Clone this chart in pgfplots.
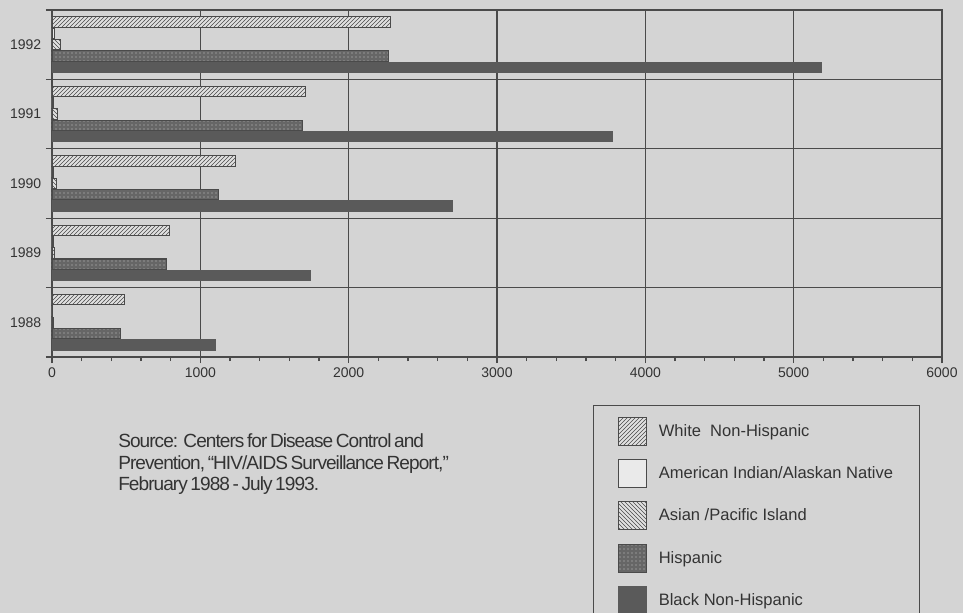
\documentclass[border=0pt]{standalone}
\usepackage{fontspec}
\setmainfont{Liberation Sans}
\newfontfamily\srcfont[LetterSpace=-5, WordSpace=0.6]{Liberation Sans}
\usepackage{pgfplots}
\pgfplotsset{compat=1.18}
\usetikzlibrary{patterns}
\definecolor{bg}{HTML}{D4D4D4}
\definecolor{ln}{HTML}{4A4A4A}
\definecolor{barc}{HTML}{5A5A5A}
\definecolor{hisp}{HTML}{666666}
\definecolor{txt}{HTML}{333333}
\begin{document}
\begin{tikzpicture}
\path[use as bounding box, fill=bg] (0,0) rectangle (722.25pt,-459.75pt);
\begin{axis}[
  at={(39pt,-267.75pt)}, anchor=south west, scale only axis,
  width=667.5pt, height=260.25pt,
  xbar, bar width=0.15,
  xmin=0, xmax=6000, ymin=-0.5, ymax=4.5,
  xtick={0,1000,2000,3000,4000,5000,6000}, minor x tick num=4,
  ytick={-0.5,0.5,1.5,2.5,3.5,4.5}, yticklabels={},
  extra y ticks={0,1,2,3,4}, extra y tick labels={1988,1989,1990,1991,1992},
  extra y tick style={grid=none, tick style={draw=none}},
  grid=major, major grid style={ln, line width=0.9pt},
  axis line style={ln, line width=0.9pt},
  tick style={ln, line width=0.9pt},
  tick align=outside, xtick pos=left, ytick pos=left,
  major tick length=4.5pt, minor tick length=3pt,
  ticklabel style={font=\fontsize{10.5}{12}\selectfont, text=txt},
  /pgf/number format/assume math mode=true,
  /pgf/number format/1000 sep={},
  legend image code/.code={\draw[#1] (0pt,-10.5pt) rectangle (21pt,10.5pt);},
  legend cell align=left,
  legend style={at={(0.608,-0.138)}, anchor=north west, draw=ln, line width=0.9pt,
    fill=none, font=\fontsize{12.4}{14}\selectfont, text=txt,
    row sep=9.9pt, inner xsep=18pt, inner ysep=8.5pt,
    /tikz/every odd column/.append style={column sep=7pt}},
]
\addplot[bar shift=0.326, draw=ln, line width=0.8pt, fill=bg!70!white,
  postaction={pattern=north east lines, pattern color=ln}]
  coordinates {(490,0) (795,1) (1240,2) (1710,3) (2282,4)};
\addlegendentry{White\ \ Non-Hispanic}
\addplot[bar shift=0.163, draw=ln, line width=0.8pt, fill=bg!50!white]
  coordinates {(5,0) (8,1) (10,2) (12,3) (15,4)};
\addlegendentry{American Indian/Alaskan Native}
\addplot[bar shift=0, draw=ln, line width=0.8pt, fill=bg!70!white,
  postaction={pattern=north west lines, pattern color=ln}]
  coordinates {(10,0) (20,1) (30,2) (35,3) (55,4)};
\addlegendentry{Asian /Pacific Island}
\addplot[bar shift=-0.163, draw=ln, line width=0.8pt, fill=hisp,
  postaction={pattern=dots, pattern color=gray!45}]
  coordinates {(460,0) (775,1) (1120,2) (1690,3) (2270,4)};
\addlegendentry{Hispanic}
\addplot[bar shift=-0.326, draw=barc, line width=0.8pt, fill=barc]
  coordinates {(1105,0) (1740,1) (2700,2) (3780,3) (5190,4)};
\addlegendentry{Black Non-Hispanic}
\end{axis}
\node[anchor=north west, align=left, inner sep=0pt, text=txt,
  font=\srcfont\fontsize{14.3}{16.2}\selectfont] at (88.5pt,-325pt)
  {Source:\ \ Centers for Disease Control and\\
   Prevention, “HIV/AIDS Surveillance Report,”\\
   February 1988 - July 1993.};
\end{tikzpicture}
\end{document}
